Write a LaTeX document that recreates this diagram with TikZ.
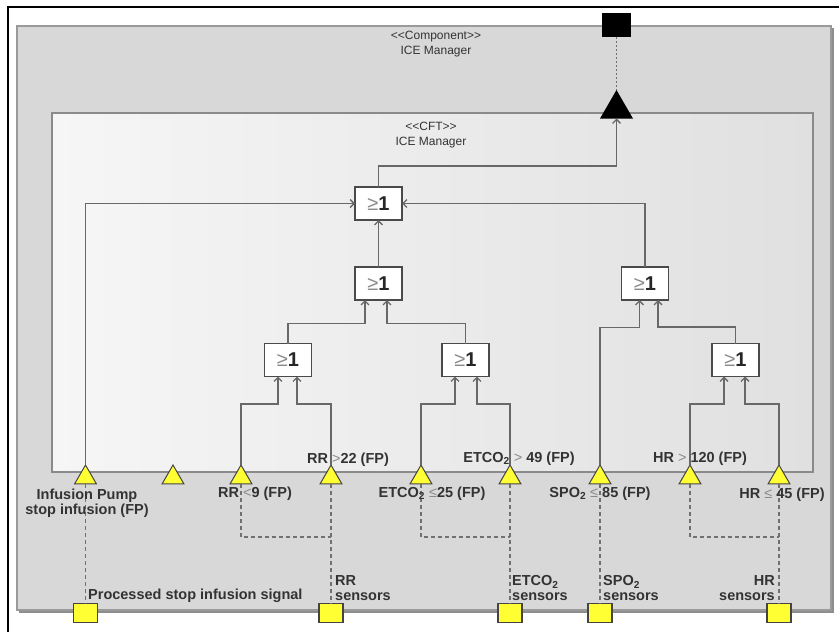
\documentclass[tikz,border=0pt]{standalone}
\usepackage{fontspec}
\setmainfont{Liberation Sans}
\usetikzlibrary{shapes.geometric,arrows.meta}

\definecolor{compfill}{HTML}{D8D8D8}
\definecolor{compedge}{HTML}{9A9A9A}
\definecolor{compshade}{HTML}{8E8E8E}
\definecolor{cftedge}{HTML}{8A8A8A}
\definecolor{cftleft}{HTML}{F6F6F6}
\definecolor{cftright}{HTML}{E0E0E0}
\definecolor{wire}{HTML}{686868}
\definecolor{dashc}{HTML}{707070}
\definecolor{gateedge}{HTML}{4A4A4A}
\definecolor{labelc}{HTML}{333333}
\definecolor{symgray}{HTML}{8A8A8A}
\definecolor{portyellow}{HTML}{FFFF33}
\definecolor{portedge}{HTML}{444444}

% relational symbol inside a label, set lighter and not bold
\newcommand\relsym[1]{{\mdseries\color{symgray}#1}}
% text of an OR gate
\newcommand\orgate{{\color{symgray}≥}{\bfseries\color{black!85}1}}

\begin{document}
\begin{tikzpicture}[x=1pt,y=-1pt,
  wireline/.style={draw=wire, line width=1.3pt},
  arr/.style={wireline, -{Straight Barb[length=4pt,width=8pt]}},
  dashline/.style={draw=dashc, line width=1.2pt, dash pattern=on 4pt off 3pt},
  gate/.style={draw=gateedge, line width=1.8pt, fill=white, minimum width=47pt,
    minimum height=33pt, inner sep=0pt, outer sep=0pt, font=\fontsize{20}{20}\selectfont},
  inport/.style={regular polygon, regular polygon sides=3, minimum size=25pt,
    inner sep=0pt, outer sep=0pt, draw=portedge, line width=1pt, fill=portyellow},
  outport/.style={rectangle, minimum width=24pt, minimum height=19pt, inner sep=0pt,
    outer sep=0pt, draw=portedge, line width=1.2pt, fill=portyellow},
  lbl/.style={inner sep=0pt, text=labelc, font=\fontsize{14.5}{15}\selectfont\bfseries},
  title/.style={inner sep=0pt, align=center, text=labelc, font=\fontsize{12}{15}\selectfont}
]
\useasboundingbox (0,0) rectangle (839,632);
\fill[white] (0,0) rectangle (839,632);

% outer frame
\draw[black, line width=2.2pt] (8,645) -- (8,7) -- (850,7);

% component block
\fill[compshade] (19,28) rectangle (834,613);
\draw[draw=compedge, fill=compfill, line width=1.2pt] (17,26) rectangle (831,610);
\node[title] (comptitle) at (436,44.5) {<{}<Component>{}>\\ICE Manager};

% component fault tree block
\draw[draw=cftedge, left color=cftleft, right color=cftright, line width=1.4pt] (52,113) rectangle (813,472);
\node[title] (cfttitle) at (431,135.5) {<{}<CFT>{}>\\ICE Manager};

% output port and output failure
\node[rectangle, fill=black, minimum width=29pt, minimum height=24pt, inner sep=0pt, outer sep=0pt] (outsq) at (616.5,25) {};
\node[regular polygon, regular polygon sides=3, minimum size=38pt, inner sep=0pt, outer sep=0pt, fill=black] (outtri) at (616.5,109) {};
\draw[dashline, dash pattern=on 2pt off 2pt, line width=0.9pt] (outsq.south) -- (outtri.north);

% OR gates
\node[gate] (g1) at (378.5,203.5) {\orgate};
\node[gate] (g2) at (378.5,283.5) {\orgate};
\node[gate] (g3) at (288,360) {\orgate};
\node[gate] (g4) at (465.5,360) {\orgate};
\node[gate] (g5) at (645,283.5) {\orgate};
\node[gate] (g6) at (735.5,360) {\orgate};

% input failure ports on the lower edge
\node[inport] (t1) at (85.5,477.5) {};
\node[inport] (t2) at (173,477.5) {};
\node[inport] (t3) at (241,477.5) {};
\node[inport] (t4) at (331,477.5) {};
\node[inport] (t5) at (421,477.5) {};
\node[inport] (t6) at (510,477.5) {};
\node[inport] (t7) at (600,477.5) {};
\node[inport] (t8) at (690,477.5) {};
\node[inport] (t9) at (779,477.5) {};

% sensor ports
\node[outport] (s1) at (85.5,613) {};
\node[outport] (s2) at (331,613) {};
\node[outport] (s3) at (510,613) {};
\node[outport] (s4) at (600,613) {};
\node[outport] (s5) at (779,613) {};

% gate wiring
\draw[arr] (g1.north) -- ++(0,-21) -| (outtri.south);
\draw[arr] (t1.north) |- (g1.west);
\draw[arr] (g5.north) |- (g1.east);
\draw[arr] (g2.north) -- (g1.south);
\draw[arr] (g3.north) -- ++(0,-20) -| ([xshift=-13.5pt]g2.south);
\draw[arr] (g4.north) -- ++(0,-20) -| ([xshift=8.5pt]g2.south);
\draw[arr] (t3.north) |- ([xshift=-10pt,yshift=-27.5pt]g3.south) -- ([xshift=-10pt]g3.south);
\draw[arr] (t4.north) |- ([xshift=9pt,yshift=-27.5pt]g3.south) -- ([xshift=9pt]g3.south);
\draw[arr] (t5.north) |- ([xshift=-10.5pt,yshift=-27.5pt]g4.south) -- ([xshift=-10.5pt]g4.south);
\draw[arr] (t6.north) |- ([xshift=11.5pt,yshift=-27.5pt]g4.south) -- ([xshift=11.5pt]g4.south);
\draw[arr] (t7.north) |- ([xshift=-5.5pt,yshift=-27.5pt]g5.south) -- ([xshift=-5.5pt]g5.south);
\draw[arr] (g6.north) -- ++(0,-16.5) -| ([xshift=13pt]g5.south);
\draw[arr] (t8.north) |- ([xshift=-11.5pt,yshift=-27.5pt]g6.south) -- ([xshift=-11.5pt]g6.south);
\draw[arr] (t9.north) |- ([xshift=9.5pt,yshift=-27.5pt]g6.south) -- ([xshift=9.5pt]g6.south);

% sensor traces
\coordinate (jrr) at (331,537);
\coordinate (jet) at (510,537);
\coordinate (jhr) at (779,537);
\draw[dashline] (t1.south) -- (s1.north);
\draw[dashline] (t3.south) |- (jrr);
\draw[dashline] (t4.south) -- (s2.north);
\draw[dashline] (t5.south) |- (jet);
\draw[dashline] (t6.south) -- (s3.north);
\draw[dashline] (t7.south) -- (s4.north);
\draw[dashline] (t8.south) |- (jhr);
\draw[dashline] (t9.south) -- (s5.north);

% failure mode labels
\node[lbl, align=center] (l1) at (87,503.5) {Infusion Pump\\stop infusion (FP)};
\node[lbl] (l3) at (255,494) {RR \relsym{<}9 (FP)};
\node[lbl] (l4) at (348,460) {RR \relsym{>}22 (FP)};
\node[lbl] (l5) at (432,494) {ETCO\textsubscript{2} \relsym{≤}25 (FP)};
\node[lbl] (l6) at (519,459) {ETCO\textsubscript{2} \relsym{>} 49 (FP)};
\node[lbl] (l7) at (600,494) {SPO\textsubscript{2} \relsym{≤} 85 (FP)};
\node[lbl] (l8) at (700,459) {HR \relsym{>} 120 (FP)};
\node[lbl] (l9) at (782,495) {HR \relsym{≤} 45 (FP)};

% sensor labels
\node[lbl, anchor=west] (p1) at (88,596) {Processed stop infusion signal};
\node[lbl, anchor=west, align=left] (p2) at (335,588.5) {RR\\sensors};
\node[lbl, anchor=west, align=left] (p3) at (512,588.5) {ETCO\textsubscript{2}\\sensors};
\node[lbl, anchor=west, align=left] (p4) at (603,588.5) {SPO\textsubscript{2}\\sensors};
\node[lbl, anchor=east, align=right] (p5) at (775,588.5) {HR\\sensors};
\end{tikzpicture}
\end{document}
